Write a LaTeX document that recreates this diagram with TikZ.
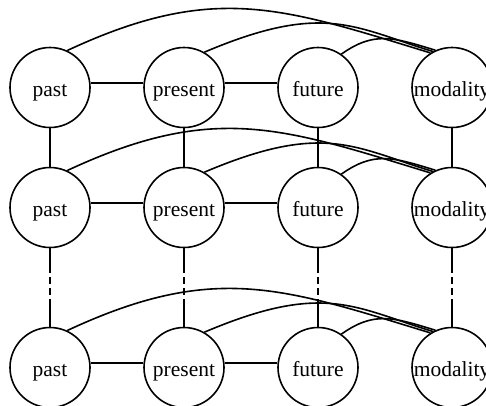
\documentclass[tikz,border=0pt]{standalone}
\usepackage{fontspec}
\setmainfont{Liberation Serif}
\usetikzlibrary{calc}
\begin{document}
\begin{tikzpicture}[x=1pt,y=1pt,
  st/.style={circle,draw,line width=1.6pt,minimum size=80pt,inner sep=0pt,
    font=\fontsize{21.5}{21.5}\selectfont},
  ln/.style={line width=1.6pt},
  dl/.style={line width=2.3pt,dash pattern=on 7pt off 4pt}]
\useasboundingbox (0,0) rectangle (486,-405);
\foreach \r/\y in {1/-87.5,2/-207.5,3/-367.5}{
  \node[st] (p\r) at (50,\y) {\raisebox{-9pt}[0pt][0pt]{past}};
  \node[st] (r\r) at (184,\y) {\raisebox{-9pt}[0pt][0pt]{present}};
  \node[st] (f\r) at (318,\y) {\raisebox{-9pt}[0pt][0pt]{future}};
  \node[st] (m\r) at (452,\y) {\raisebox{-9pt}[0pt][0pt]{modality}};
  \draw[ln] (p\r.6) -- (r\r.174);
  \draw[ln] (r\r.6) -- (f\r.174);
  \draw[ln] (p\r.65) .. controls +(25:162) and +(163:155) .. (m\r.122);
  \draw[ln] (r\r.60) .. controls +(23:130) and +(163:82) .. (m\r.118);
  \draw[ln] (f\r.55) .. controls +(35:40) and +(163:45) .. (m\r.114);
}
\foreach \c in {p,r,f,m}{
  \draw[ln] (\c1.south) -- (\c2.north);
  \coordinate (\c a) at ($(\c2.south)+(0,-18)$);
  \coordinate (\c b) at ($(\c3.north)+(0,22)$);
  \draw[ln] (\c2.south) -- (\c a);
  \draw[dl] (\c a) -- (\c b);
  \draw[ln] (\c b) -- (\c3.north);
}
\end{tikzpicture}
\end{document}
